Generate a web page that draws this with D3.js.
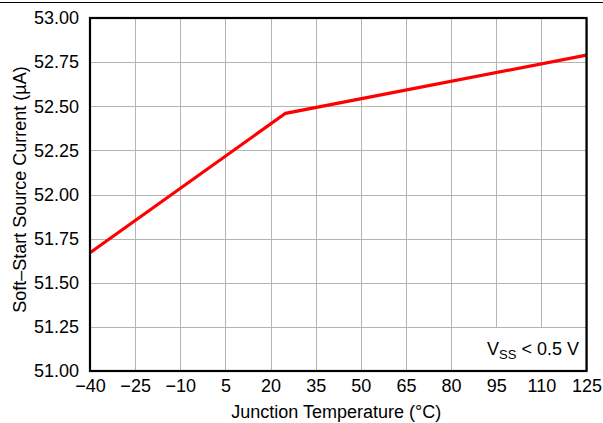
<!DOCTYPE html>
<html>
<head>
<meta charset="utf-8">
<script src="https://cdn.jsdelivr.net/npm/d3@7"></script>
<style>
  html, body { margin: 0; padding: 0; background: #fff; }
  svg { display: block; font-family: "Liberation Sans", Arial, sans-serif; }
</style>
</head>
<body>
<svg id="chart" width="603" height="423"></svg>
<script>
// Soft-start source current vs junction temperature
const temperature = [-40, 25, 125];
const currentUA = [51.67, 52.46, 52.79];
const xTicks = [-40, -25, -10, 5, 20, 35, 50, 65, 80, 95, 110, 125];
const yTicks = [51.00, 51.25, 51.50, 51.75, 52.00, 52.25, 52.50, 52.75, 53.00];

const svg = d3.select("#chart");
const margin = { left: 90, top: 18, right: 16.5, bottom: 52 };
const W = 603, H = 423;
const x = d3.scaleLinear().domain([-40, 125]).range([margin.left, W - margin.right]);
const y = d3.scaleLinear().domain([51, 53]).range([H - margin.bottom, margin.top]);

// top rule
svg.append("line").attr("x1", 0).attr("x2", W).attr("y1", 2.5).attr("y2", 2.5)
  .attr("stroke", "#000").attr("stroke-width", 1);

// grid
const grid = svg.append("g").attr("stroke", "#b4b4b4").attr("stroke-width", 1);
grid.selectAll(".vx").data(xTicks).join("line")
  .attr("x1", d => Math.round(x(d)) + 0.5).attr("x2", d => Math.round(x(d)) + 0.5)
  .attr("y1", y(53)).attr("y2", y(51));
grid.selectAll(".hy").data(yTicks).join("line")
  .attr("y1", d => Math.round(y(d)) + 0.5).attr("y2", d => Math.round(y(d)) + 0.5)
  .attr("x1", x(-40)).attr("x2", x(125));

// data line
const line = d3.line().x((d, i) => x(temperature[i])).y(d => y(d));
svg.append("path").datum(currentUA)
  .attr("d", line).attr("fill", "none")
  .attr("stroke", "#ff0000").attr("stroke-width", 3.2)
  .attr("stroke-linejoin", "miter");

// annotation box
const boxY = Math.round(y(51.25)) + 1;
svg.append("rect").attr("x", 469).attr("y", boxY)
  .attr("width", x(125) - 469).attr("height", y(51) - boxY)
  .attr("fill", "#fff");
const ann = svg.append("text").attr("x", 579).attr("y", 355)
  .attr("text-anchor", "end").attr("font-size", 18).attr("fill", "#000");
ann.append("tspan").text("V");
ann.append("tspan").attr("font-size", 13).attr("dy", 3.5).text("SS");
ann.append("tspan").attr("dy", -3.5).text(" < 0.5 V");

// frame
svg.append("rect").attr("x", x(-40)).attr("y", y(53))
  .attr("width", x(125) - x(-40)).attr("height", y(51) - y(53))
  .attr("fill", "none").attr("stroke", "#000").attr("stroke-width", 2.2);

// axes
const fmtX = d => d < 0 ? "\u2212" + Math.abs(d) : String(d);
const xAxis = d3.axisBottom(x).tickValues(xTicks).tickSize(0).tickPadding(8).tickFormat(fmtX);
const gx = svg.append("g").attr("transform", `translate(0,${y(51)})`).call(xAxis);
gx.select(".domain").remove();
gx.selectAll("text").attr("font-size", 18).attr("fill", "#000")
  .attr("font-family", "Liberation Sans, Arial, sans-serif");

const yAxis = d3.axisLeft(y).tickValues(yTicks).tickSize(0).tickPadding(11).tickFormat(d3.format(".2f"));
const gy = svg.append("g").attr("transform", `translate(${x(-40)},0)`).call(yAxis);
gy.select(".domain").remove();
gy.selectAll("text").attr("font-size", 18).attr("fill", "#000")
  .attr("font-family", "Liberation Sans, Arial, sans-serif");

// axis titles
svg.append("text").attr("x", (x(-40) + x(125)) / 2 - 2).attr("y", 418)
  .attr("text-anchor", "middle").attr("font-size", 18).attr("fill", "#000")
  .text("Junction Temperature (°C)");
svg.append("text").attr("transform", `translate(26,189.5) rotate(-90)`)
  .attr("text-anchor", "middle").attr("font-size", 18).attr("fill", "#000")
  .text("Soft\u2013Start Source Current (µA)");
</script>
</body>
</html>
